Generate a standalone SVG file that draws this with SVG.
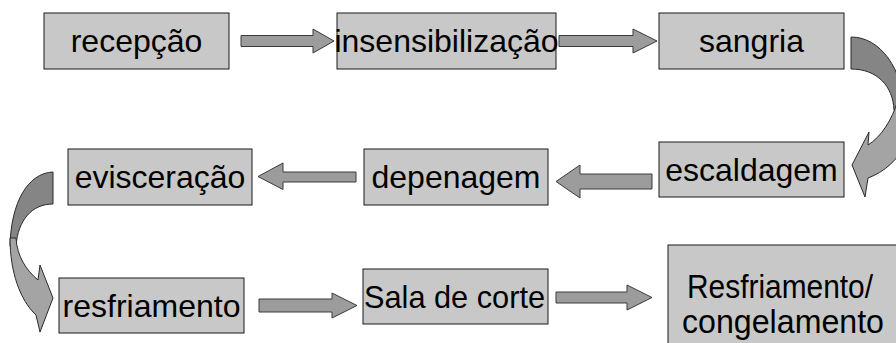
<svg xmlns="http://www.w3.org/2000/svg" width="896" height="343" viewBox="0 0 896 343">
  <style>
    .box { fill: #c8c8c8; stroke: #1a1a1a; stroke-width: 1; }
    .lbl { font-family: "Liberation Sans", Arial, sans-serif; font-size: 32px; fill: #000; text-anchor: middle; }
    .arr { fill: #9c9c9c; stroke: #3a3a3a; stroke-width: 1; stroke-linejoin: miter; }
    .back { fill: #858585; stroke: #2a2a2a; stroke-width: 1; }
    .front { fill: #a4a4a4; stroke: #2a2a2a; stroke-width: 1; }
  </style>
  <rect width="896" height="343" fill="#ffffff"/>

  <!-- connectors -->
  <g id="connectors">
    <!-- recepção -> insensibilização -->
    <path class="arr" d="M241,35.5 H313 V29 L334,41 L313,53 V46.5 H241 Z"/>
    <!-- insensibilização -> sangria -->
    <path class="arr" d="M559,35.5 H633 V29 L657,41 L633,53 V46.5 H559 Z"/>
    <!-- sangria -> escaldagem (curved) -->
    <path class="back" d="M851,37 C 880,37 903,68 905,112 L 894,110 C 893,86 877,69 851,69 Z"/>
    <path class="front" d="M898,100 C 892,120 881,137 868,145 L 869,132 L 852,165 L 865,197 L 868,178 C 884,172 899,160 907,140 L 907,100 Z"/>
    <!-- escaldagem -> depenagem -->
    <path class="arr" d="M652,174 H580 V165 L556,181.5 L580,198 V189 H652 Z"/>
    <!-- depenagem -> evisceração -->
    <path class="arr" d="M356,172 H283 V163 L258,176.5 L283,189.5 V182 H356 Z"/>
    <!-- evisceração -> resfriamento (curved) -->
    <path class="back" d="M53,172 C 28,173 11,202 10,246 L 16,246 C 18,220 32,204 53,204 Z"/>
    <path class="front" d="M10,238 C 10,272 20,300 36,315 L 40,332 L 53,298 L 40,265 L 38,280 C 26,270 17,256 16,238 Z"/>
    <!-- resfriamento -> Sala de corte -->
    <path class="arr" d="M259,299 H332 V293 L357,305.5 L332,318 V312 H259 Z"/>
    <!-- Sala de corte -> Resfriamento/congelamento -->
    <path class="arr" d="M556,292 H627 V285 L652,297.5 L627,310 V303 H556 Z"/>
  </g>

  <g id="recepcao">
    <rect class="box" x="44" y="13" width="185" height="56"/>
    <text class="lbl" x="136.5" y="52">recepção</text>
  </g>
  <g id="insensibilizacao">
    <rect class="box" x="337" y="13" width="219" height="56"/>
    <text class="lbl" x="446.5" y="52">insensibilização</text>
  </g>
  <g id="sangria">
    <rect class="box" x="659" y="13" width="185" height="56"/>
    <text class="lbl" x="751.5" y="52">sangria</text>
  </g>
  <g id="escaldagem">
    <rect class="box" x="659" y="142" width="185" height="55"/>
    <text class="lbl" x="751.5" y="181">escaldagem</text>
  </g>
  <g id="depenagem">
    <rect class="box" x="364" y="149" width="184" height="56"/>
    <text class="lbl" x="456" y="188">depenagem</text>
  </g>
  <g id="evisceracao">
    <rect class="box" x="68" y="149" width="184" height="56"/>
    <text class="lbl" x="160" y="188">evisceração</text>
  </g>
  <g id="resfriamento">
    <rect class="box" x="59" y="278" width="185" height="55"/>
    <text class="lbl" x="151.5" y="317">resfriamento</text>
  </g>
  <g id="sala-de-corte">
    <rect class="box" x="363" y="269" width="185" height="55"/>
    <text class="lbl" x="454.5" y="308" textLength="181" lengthAdjust="spacingAndGlyphs">Sala de corte</text>
  </g>
  <g id="resfriamento-congelamento">
    <rect class="box" x="668" y="245" width="240" height="110"/>
    <text class="lbl" x="780" y="298" style="font-size:34px" textLength="186" lengthAdjust="spacingAndGlyphs">Resfriamento/</text>
    <text class="lbl" x="783" y="333" style="font-size:34px" textLength="202" lengthAdjust="spacingAndGlyphs">congelamento</text>
  </g>
</svg>
